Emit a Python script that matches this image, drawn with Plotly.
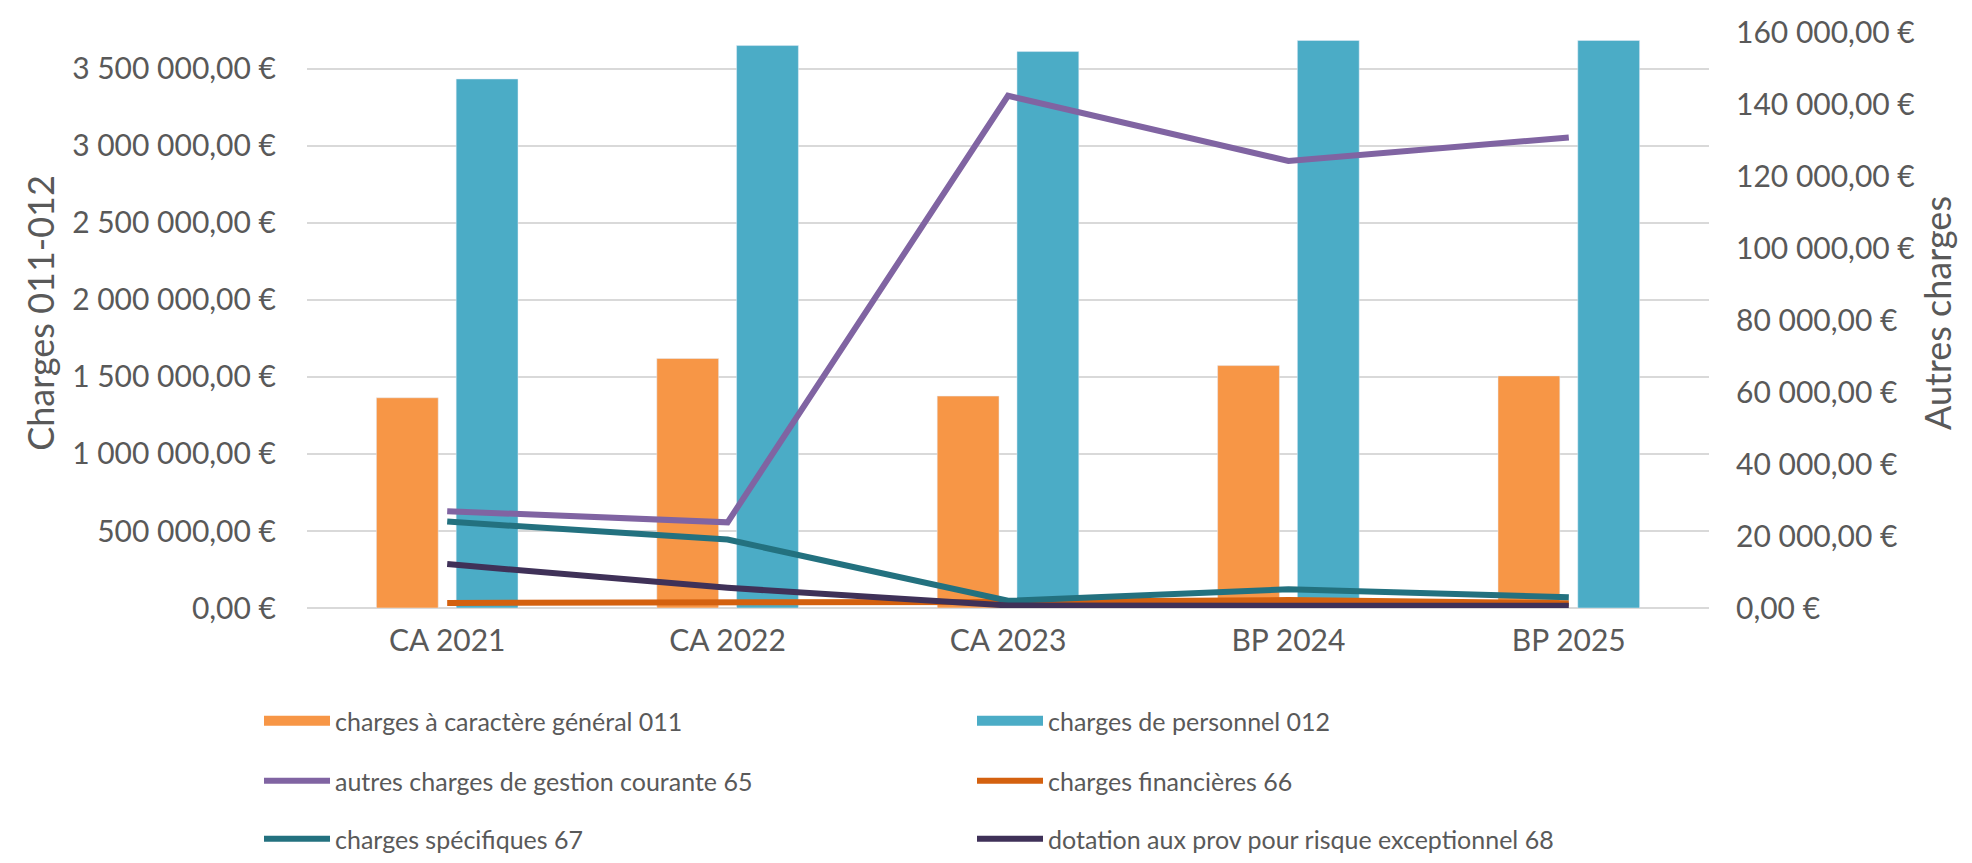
import plotly.graph_objects as go

# values
categories = ["CA 2021", "CA 2022", "CA 2023", "BP 2024", "BP 2025"]
charges_011 = [1365000, 1620000, 1376000, 1574000, 1507000]
charges_012 = [3435000, 3652000, 3613000, 3685000, 3685000]
autres_65 = [26900, 23800, 142300, 124200, 130700]
financieres_66 = [1400, 1400, 1700, 2200, 1300]
specifiques_67 = [24000, 19000, 2000, 5200, 3000]
dotation_68 = [12200, 5600, 700, 600, 600]

FONT = "Lato"
GREY = "#595959"

fig = go.Figure()

# bars on the left axis (their legend entries are wide swatches added below)
bars = [
    ("charges à caractère général 011", charges_011, "#F79646", "legend"),
    ("charges de personnel 012", charges_012, "#4BACC6", "legend2"),
]
for name, vals, col, leg in bars:
    fig.add_trace(go.Bar(x=categories, y=vals, name=name, marker_color=col,
                         showlegend=False, yaxis="y"))

lines = [
    ("autres charges de gestion courante 65", autres_65, "#8064A2", "legend3"),
    ("charges financières 66", financieres_66, "#D4610F", "legend4"),
    ("charges spécifiques 67", specifiques_67, "#23717F", "legend5"),
    ("dotation aux prov pour risque exceptionnel 68", dotation_68, "#3F3158", "legend6"),
]
for name, vals, col, leg in lines:
    fig.add_trace(go.Scatter(x=categories, y=vals, name=name, mode="lines",
                             line=dict(color=col, width=6), yaxis="y2", legend=leg))

# legend-only swatches for the bar series
for name, vals, col, leg in bars:
    fig.add_trace(go.Scatter(x=[None], y=[None], name=name, mode="lines",
                             line=dict(color=col, width=17), yaxis="y2", legend=leg))

# one small legend per entry: 2 columns x 3 rows under the chart
col_x = [251, 964]
row_y = [713, 773, 831]


def legend_at(col, row):
    return dict(orientation="h", xref="container", yref="container",
                x=col_x[col] / 1972, xanchor="left",
                y=1 - row_y[row] / 863, yanchor="middle",
                itemwidth=66, font=dict(family=FONT, size=25, color=GREY),
                bgcolor="rgba(0,0,0,0)")


fig.update_layout(
    width=1972, height=863,
    margin=dict(l=299, r=271, t=10, b=263, autoexpand=False),
    paper_bgcolor="white", plot_bgcolor="white",
    font=dict(family=FONT, color=GREY),
    separators=", ",
    barmode="group", bargap=0.431, bargroupgap=0.225,
    xaxis=dict(type="category", showgrid=False, showline=False, ticks="",
               tickfont=dict(size=30, color=GREY), ticklabelstandoff=12, tickangle=0),
    yaxis=dict(range=[0, 3831000], dtick=500000, tickformat=",.2f", ticksuffix=" €",
               showgrid=True, gridcolor="#D9D9D9", gridwidth=2,
               zeroline=True, zerolinecolor="#D9D9D9", zerolinewidth=2,
               tickfont=dict(size=30, color=GREY), ticklabelstandoff=30,
               title=dict(text="Charges 011-012", font=dict(size=36, color=GREY), standoff=6)),
    yaxis2=dict(overlaying="y", side="right", range=[0, 163900], dtick=20000,
                tickformat=",.2f", ticksuffix=" €", showgrid=False, zeroline=False,
                tickfont=dict(size=30, color=GREY), ticklabelstandoff=26,
                title=dict(text="Autres charges", font=dict(size=36, color=GREY), standoff=6)),
    legend=legend_at(0, 0),
    legend2=legend_at(1, 0),
    legend3=legend_at(0, 1),
    legend4=legend_at(1, 1),
    legend5=legend_at(0, 2),
    legend6=legend_at(1, 2),
)

fig.write_html("out.html")
